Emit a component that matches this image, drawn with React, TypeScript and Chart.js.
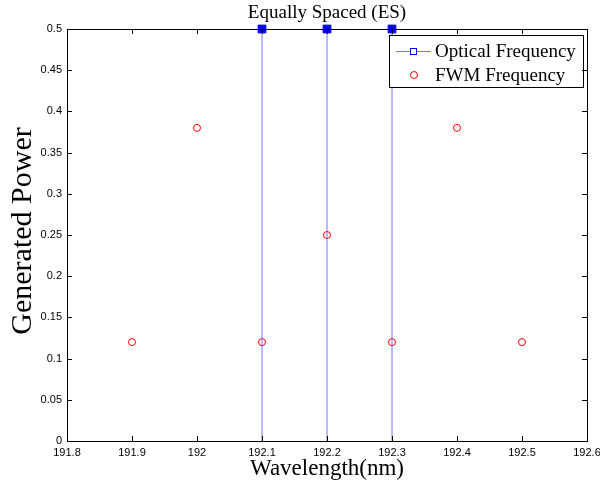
import React, { useEffect, useRef } from "react";
import { Chart, registerables } from "chart.js";

Chart.register(...registerables);

const chartTitle = "Equally Spaced (ES)";
const xAxisTitle = "Wavelength(nm)";
const yAxisTitle = "Generated Power";
const opticalLabel = "Optical Frequency";
const fwmLabel = "FWM Frequency";

const opticalFreq = [192.1, 192.2, 192.3];
const opticalPower = [0.5, 0.5, 0.5];
const fwmFreq = [191.9, 192.0, 192.1, 192.2, 192.3, 192.4, 192.5];
const fwmPower = [0.12, 0.38, 0.12, 0.25, 0.12, 0.38, 0.12];

const xTickValues = [191.8, 191.9, 192.0, 192.1, 192.2, 192.3, 192.4, 192.5, 192.6];
const xTickLabels = ["191.8", "191.9", "192", "192.1", "192.2", "192.3", "192.4", "192.5", "192.6"];
const yTickValues = [0, 0.05, 0.1, 0.15, 0.2, 0.25, 0.3, 0.35, 0.4, 0.45, 0.5];
const yTickLabels = ["0", "0.05", "0.1", "0.15", "0.2", "0.25", "0.3", "0.35", "0.4", "0.45", "0.5"];

const SERIF = "'Liberation Serif', 'Times New Roman', serif";
const SANS = "'Liberation Sans', Arial, sans-serif";
const STEM_COLOR = "rgba(60,60,255,0.7)";

const framePlugin = {
  id: "frame",
  afterDraw(chart: any) {
    const ctx = chart.ctx as CanvasRenderingContext2D;
    const { left, right, top, bottom } = chart.chartArea;
    const xs = chart.scales.x;
    const ys = chart.scales.y;
    ctx.save();
    ctx.strokeStyle = "#000";
    ctx.lineWidth = 1;
    const tl = 5;
    ctx.beginPath();
    xTickValues.forEach((v) => {
      const px = Math.round(xs.getPixelForValue(v)) + 0.5;
      ctx.moveTo(px, bottom);
      ctx.lineTo(px, bottom - tl);
      ctx.moveTo(px, top);
      ctx.lineTo(px, top + tl);
    });
    yTickValues.forEach((v) => {
      const py = Math.round(ys.getPixelForValue(v)) + 0.5;
      ctx.moveTo(left, py);
      ctx.lineTo(left + tl, py);
      ctx.moveTo(right, py);
      ctx.lineTo(right - tl, py);
    });
    ctx.stroke();
    ctx.strokeRect(Math.round(left) + 0.5, Math.round(top) + 0.5, Math.round(right - left), Math.round(bottom - top));
    ctx.restore();
  },
};

const overlayPlugin = {
  id: "overlay",
  afterDatasetsDraw(chart: any) {
    const ctx = chart.ctx as CanvasRenderingContext2D;
    const { left, right, top, bottom } = chart.chartArea;
    ctx.save();
    ctx.fillStyle = "#000";
    ctx.textAlign = "center";
    ctx.textBaseline = "middle";
    ctx.font = `19px ${SERIF}`;
    ctx.fillText(chartTitle, (left + right) / 2, 13);
    ctx.font = `23px ${SERIF}`;
    ctx.fillText(xAxisTitle, (left + right) / 2, 469);
    ctx.save();
    ctx.translate(23, (top + bottom) / 2 - 4);
    ctx.rotate(-Math.PI / 2);
    ctx.font = `30px ${SERIF}`;
    ctx.fillText(yAxisTitle, 0, 0);
    ctx.restore();

    // Legend
    const lx = 389.5, ly = 35.5, lw = 194, lh = 52;
    ctx.fillStyle = "#fff";
    ctx.fillRect(lx, ly, lw, lh);
    ctx.strokeStyle = "#000";
    ctx.lineWidth = 1;
    ctx.strokeRect(lx, ly, lw, lh);
    const y1 = 51, y2 = 75;
    ctx.strokeStyle = STEM_COLOR;
    ctx.beginPath();
    ctx.moveTo(396, y1 + 0.5);
    ctx.lineTo(431, y1 + 0.5);
    ctx.stroke();
    ctx.fillStyle = "#fff";
    ctx.fillRect(410.5, y1 - 2.5, 6, 6);
    ctx.strokeStyle = "#0000ff";
    ctx.strokeRect(410.5, y1 - 2.5, 6, 6);
    ctx.strokeStyle = "#ff0000";
    ctx.beginPath();
    ctx.arc(414, y2, 3.5, 0, Math.PI * 2);
    ctx.stroke();
    ctx.fillStyle = "#000";
    ctx.textAlign = "left";
    ctx.font = `19px ${SERIF}`;
    ctx.fillText(opticalLabel, 435, y1 + 1);
    ctx.fillText(fwmLabel, 435, y2 + 1);
    ctx.restore();
  },
};

export default function App() {
  const ref = useRef<HTMLCanvasElement>(null);
  useEffect(() => {
    if (!ref.current) return;
    const stemData: any[] = [];
    const stemRadius: number[] = [];
    opticalFreq.forEach((f, i) => {
      stemData.push({ x: f, y: 0 });
      stemRadius.push(0);
      stemData.push({ x: f, y: opticalPower[i] });
      stemRadius.push(5.5);
      stemData.push({ x: f, y: null });
      stemRadius.push(0);
    });
    const chart = new Chart(ref.current, {
      type: "scatter",
      data: {
        datasets: [
          {
            label: opticalLabel,
            data: stemData,
            showLine: true,
            spanGaps: false,
            borderColor: STEM_COLOR,
            borderWidth: 1,
            pointStyle: "rect",
            pointRadius: stemRadius,
            pointBackgroundColor: "#0000ff",
            pointBorderColor: "#0000ff",
            pointBorderWidth: 1,
            clip: false as any,
          },
          {
            label: fwmLabel,
            data: fwmFreq.map((f, i) => ({ x: f, y: fwmPower[i] })),
            showLine: false,
            pointStyle: "circle",
            pointRadius: 3.5,
            pointBackgroundColor: "rgba(0,0,0,0)",
            pointBorderColor: "#ff0000",
            pointBorderWidth: 1,
          },
        ],
      },
      options: {
        animation: false,
        responsive: false,
        maintainAspectRatio: false,
        layout: { padding: { left: 0, right: 13, top: 29, bottom: 0 } },
        plugins: {
          legend: { display: false },
          title: { display: false },
          tooltip: { enabled: false },
        },
        scales: {
          x: {
            type: "linear",
            min: 191.8,
            max: 192.6,
            afterBuildTicks: (scale: any) => {
              scale.ticks = xTickValues.map((v) => ({ value: v }));
            },
            afterFit: (scale: any) => {
              scale.height = 45;
              scale.paddingLeft = 0;
              scale.paddingRight = 0;
            },
            grid: { display: false, drawTicks: false },
            border: { display: false },
            ticks: {
              padding: 5,
              maxRotation: 0,
              autoSkip: false,
              color: "#000",
              font: { family: SANS, size: 11 },
              callback: (v: any) => {
                const i = xTickValues.findIndex((t) => Math.abs(t - v) < 1e-6);
                return i >= 0 ? xTickLabels[i] : "";
              },
            },
          },
          y: {
            type: "linear",
            min: 0,
            max: 0.5,
            afterBuildTicks: (scale: any) => {
              scale.ticks = yTickValues.map((v) => ({ value: v }));
            },
            afterFit: (scale: any) => {
              scale.width = 67;
              scale.paddingTop = 0;
              scale.paddingBottom = 0;
            },
            grid: { display: false, drawTicks: false },
            border: { display: false },
            ticks: {
              padding: 5,
              autoSkip: false,
              color: "#000",
              font: { family: SANS, size: 11 },
              callback: (v: any) => {
                const i = yTickValues.findIndex((t) => Math.abs(t - v) < 1e-6);
                return i >= 0 ? yTickLabels[i] : "";
              },
            },
          },
        },
      },
      plugins: [framePlugin, overlayPlugin],
    } as any);
    return () => chart.destroy();
  }, []);
  return (
    <div style={{ position: "fixed", left: 0, top: 0, width: 600, height: 486, background: "#fff" }}>
      <canvas ref={ref} width={600} height={486} style={{ width: 600, height: 486, display: "block" }} />
    </div>
  );
}
